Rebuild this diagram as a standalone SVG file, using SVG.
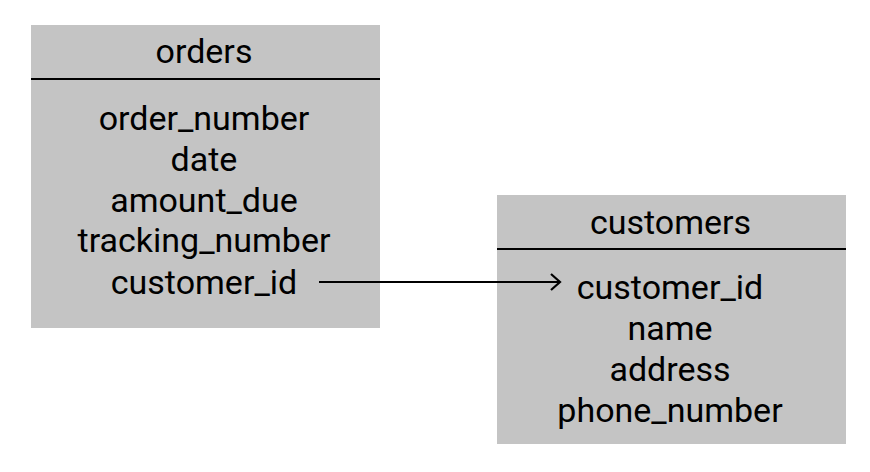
<svg xmlns="http://www.w3.org/2000/svg" width="870" height="472" viewBox="0 0 870 472">
<style>
.box{fill:#c4c4c4}
.sep{stroke:#000;stroke-width:2}
text{font-family:Roboto,"Liberation Sans",sans-serif;font-size:34px;fill:#000;text-anchor:middle}
.conn{stroke:#000;stroke-width:2;fill:none}
</style>
<defs>
<marker id="arr" markerWidth="14" markerHeight="18" refX="11" refY="9" orient="auto" markerUnits="userSpaceOnUse">
<path d="M2,1 L11,9 L2,17" fill="none" stroke="#000" stroke-width="2.2"/>
</marker>
</defs>
<rect width="870" height="472" fill="#fff"/>
<g id="orders">
<rect class="box" x="31" y="25" width="349" height="303"/>
<line class="sep" x1="31" y1="79" x2="380" y2="79"/>
<text x="204" y="63">orders</text>
<text x="204" y="129.5">order_number</text>
<text x="204" y="170.5">date</text>
<text x="204" y="211.5">amount_due</text>
<text x="204" y="252">tracking_number</text>
<text x="204" y="293.5">customer_id</text>
</g>
<g id="customers">
<rect class="box" x="497" y="195" width="349" height="249"/>
<line class="sep" x1="497" y1="249" x2="846" y2="249"/>
<text x="670.5" y="233.5">customers</text>
<text x="670" y="299">customer_id</text>
<text x="670" y="340">name</text>
<text x="670" y="381">address</text>
<text x="670" y="422">phone_number</text>
</g>
<g id="connectors">
<line class="conn" x1="319" y1="282" x2="560" y2="282" marker-end="url(#arr)"/>
</g>
</svg>
